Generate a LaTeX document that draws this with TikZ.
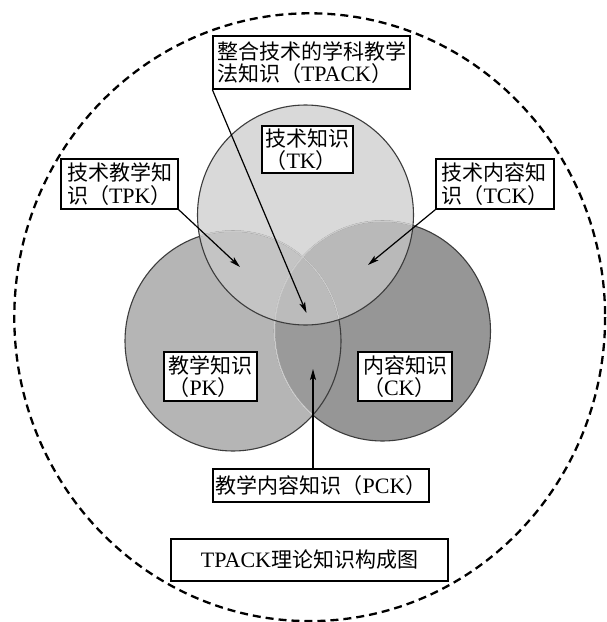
\documentclass[tikz,border=0pt]{standalone}
\usepackage{fontspec}
\setmainfont{Liberation Serif}
\newfontfamily\cjk{Noto Sans CJK SC}
\usetikzlibrary{arrows.meta}
\newcommand{\zh}[1]{{\cjk #1}}
\newcommand{\la}[1]{{\fontsize{22}{22.5}\selectfont #1}}
\definecolor{fTK}{HTML}{D9D9D9}
\definecolor{fPK}{HTML}{B5B5B5}
\definecolor{fCK}{HTML}{969696}
\definecolor{fTP}{HTML}{C4C4C4}
\definecolor{fTC}{HTML}{B9B9B9}
\definecolor{fPC}{HTML}{9A9A9A}
\definecolor{fTPC}{HTML}{BBBBBB}
\definecolor{ringc}{HTML}{3C3C3C}
\definecolor{faintc}{HTML}{CBCBCB}
\def\tkcirc{(305.5,215) ellipse [x radius=108, y radius=110]}
\def\pkcirc{(233,341) ellipse [x radius=108, y radius=110]}
\def\ckcirc{(382.5,331) ellipse [x radius=108, y radius=110]}
\begin{document}
\begin{tikzpicture}[x=1pt,y=-1pt,
  box/.style={draw=black, fill=white, line width=1.3pt, inner sep=0pt, align=left,
    font=\fontsize{21}{22.5}\selectfont},
  arr/.style={line width=1.2pt, -{Stealth[length=11pt,width=6pt,inset=2.5pt]}},
  ring/.style={draw=ringc, line width=1.1pt},
  faint/.style={draw=faintc, line width=1.5pt}]
\useasboundingbox (0,0) rectangle (607,622);
\fill[white] (0,0) rectangle (607,622);
\draw[dash pattern=on 8pt off 5pt, line width=2.3pt] (309.7,317.2) ellipse [x radius=295.4, y radius=303.9];
% fills
\fill[fPK] \pkcirc;
\fill[fCK] \ckcirc;
\fill[fTK] \tkcirc;
\begin{scope}
  \clip \pkcirc;
  \fill[fPC] \ckcirc;
\end{scope}
\begin{scope}
  \clip \tkcirc;
  \fill[fTP] \pkcirc;
  \fill[fTC] \ckcirc;
  \clip \pkcirc;
  \fill[fTPC] \ckcirc;
\end{scope}
% outlines
\draw[ring] \ckcirc;
\draw[ring] \pkcirc;
\begin{scope}
  \clip \pkcirc;
  \draw[faint] \ckcirc;
\end{scope}
\begin{scope}
  \clip \tkcirc;
  \draw[faint] \ckcirc;
  \draw[faint] \pkcirc;
\end{scope}
\draw[ring] \tkcirc;
% labels
\node[box, minimum width=197pt, minimum height=53pt] (tpack) at (311.5,62.5)
  {\zh{整合技术的学科教学}\\\zh{法知识（}\la{TPACK}\zh{）}};
\node[box, minimum width=91pt, minimum height=47pt] (tk) at (307.5,149.5)
  {\zh{技术知识}\\\zh{（}\la{TK}\zh{）}};
\node[box, minimum width=117pt, minimum height=50pt] (tpk) at (119.5,184)
  {\zh{技术教学知}\\\zh{识（}\la{TPK}\zh{）}};
\node[box, minimum width=118pt, minimum height=50pt] (tck) at (495,184)
  {\zh{技术内容知}\\\zh{识（}\la{TCK}\zh{）}};
\node[box, minimum width=93pt, minimum height=49pt] (pk) at (210.5,376.5)
  {\zh{教学知识}\\\zh{（}\la{PK}\zh{）}};
\node[box, minimum width=94pt, minimum height=49pt] (ck) at (405,376.5)
  {\zh{内容知识}\\\zh{（}\la{CK}\zh{）}};
\node[box, minimum width=216pt, minimum height=33pt] (pck) at (321,485.5)
  {\zh{教学内容知识（}\la{PCK}\zh{）}};
\node[box, minimum width=277pt, minimum height=42pt] (cap) at (309.5,560)
  {\la{TPACK}\zh{理论知识构成图}};
% arrow targets
\coordinate (tTPACK) at (306.5,313);
\coordinate (tTPK) at (240,267);
\coordinate (tTCK) at (368,265);
\coordinate (tPCK) at (313,369);
\draw[arr] (tpack.south west) -- (tTPACK);
\draw[arr] (tpk.south east) -- (tTPK);
\draw[arr] (tck.south west) -- (tTCK);
\draw[arr] (pck.north -| tPCK) -- (tPCK);
\end{tikzpicture}
\end{document}
